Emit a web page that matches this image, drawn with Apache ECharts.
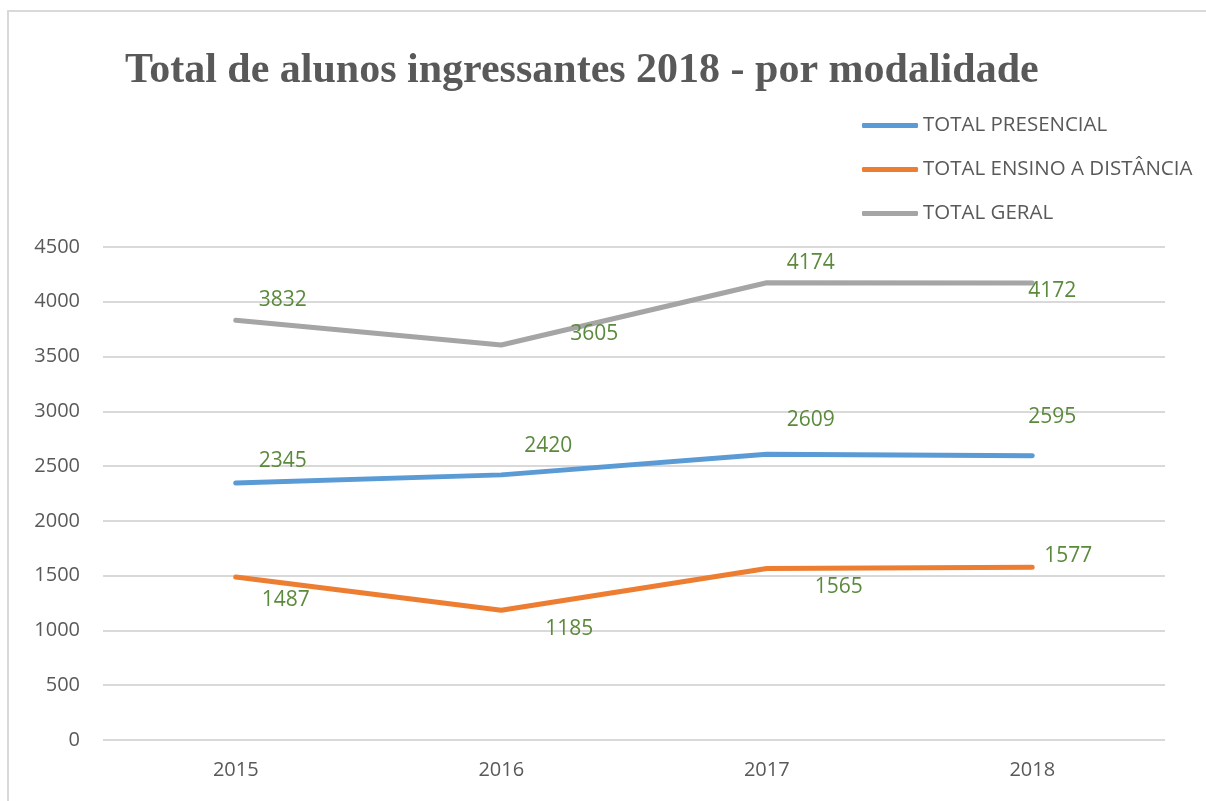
<!DOCTYPE html>
<html>
<head>
<meta charset="utf-8">
<script src="https://cdn.jsdelivr.net/npm/echarts@6/dist/echarts.min.js"></script>
<style>
  html, body { margin: 0; padding: 0; background: #fff; }
  #chart { width: 1206px; height: 801px; }
</style>
</head>
<body>
<div id="chart"></div>
<script>
// anos
const years = ['2015', '2016', '2017', '2018'];

// valores por modalidade
const presencial = [2345, 2420, 2609, 2595];
const distancia = [1487, 1185, 1565, 1577];
const geral = [3832, 3605, 4174, 4172];

const yTicks = [0, 500, 1000, 1500, 2000, 2500, 3000, 3500, 4000, 4500];

// deslocamento dos rótulos (px) como no gráfico original
const offPresencial = [[47, -22], [47, -29], [44, -34], [20, -39]];
const offDistancia = [[50, 23], [68, 19], [72, 18], [36, -11]];
const offGeral = [[47, -20], [93, -11], [44, -20], [20, 8]];

const labelGreen = '#5b8a3c';
const gray = '#595959';

function mkSeries(name, values, offsets, color) {
  return {
    name: name,
    type: 'line',
    symbol: 'circle',
    symbolSize: 1,
    showSymbol: true,
    itemStyle: { color: color },
    lineStyle: { width: 5, color: color, cap: 'round', join: 'round' },
    data: values.map((v, i) => ({
      value: v,
      label: { offset: offsets[i] }
    })),
    label: {
      show: true,
      position: 'inside',
      color: labelGreen,
      fontFamily: 'Open Sans',
      fontSize: 21
    },
    emphasis: { disabled: true },
    animation: false
  };
}

let myChart = echarts.init(document.getElementById('chart'));
let option = {
  backgroundColor: '#fff',
  title: {
    text: 'Total de alunos ingressantes 2018 - por modalidade',
    left: 120,
    top: 45,
    textStyle: {
      fontFamily: 'Liberation Serif',
      fontWeight: 'bold',
      fontSize: 42,
      color: gray
    }
  },
  graphic: [{
    type: 'rect',
    shape: { x: 8, y: 11, width: 1300, height: 900 },
    style: { fill: null, stroke: '#d9d9d9', lineWidth: 2 },
    silent: true
  }],
  legend: {
    orient: 'vertical',
    left: 857,
    top: 110,
    itemWidth: 56,
    itemHeight: 5,
    itemGap: 23,
    icon: 'roundRect',
    textStyle: { color: gray, fontFamily: 'Open Sans', fontSize: 20.5 },
    data: ['TOTAL PRESENCIAL', 'TOTAL ENSINO A DISTÂNCIA', 'TOTAL GERAL']
  },
  grid: { left: 103, right: 41, top: 247, bottom: 61 },
  xAxis: {
    type: 'category',
    data: years,
    boundaryGap: true,
    axisLine: { show: false },
    axisTick: { show: false },
    axisLabel: { color: gray, fontFamily: 'Open Sans', fontSize: 20, margin: 20 }
  },
  yAxis: {
    type: 'value',
    min: yTicks[0],
    max: yTicks[yTicks.length - 1],
    interval: 500,
    axisLine: { show: false },
    axisTick: { show: false },
    axisLabel: {
      color: gray, fontFamily: 'Open Sans', fontSize: 20, margin: 23,
      formatter: (v) => String(v)
    },
    splitLine: { lineStyle: { color: '#d9d9d9', width: 2 } }
  },
  series: [
    mkSeries('TOTAL PRESENCIAL', presencial, offPresencial, '#5b9bd5'),
    mkSeries('TOTAL ENSINO A DISTÂNCIA', distancia, offDistancia, '#ed7d31'),
    mkSeries('TOTAL GERAL', geral, offGeral, '#a5a5a5')
  ]
};
myChart.setOption(option);
</script>
</body>
</html>
